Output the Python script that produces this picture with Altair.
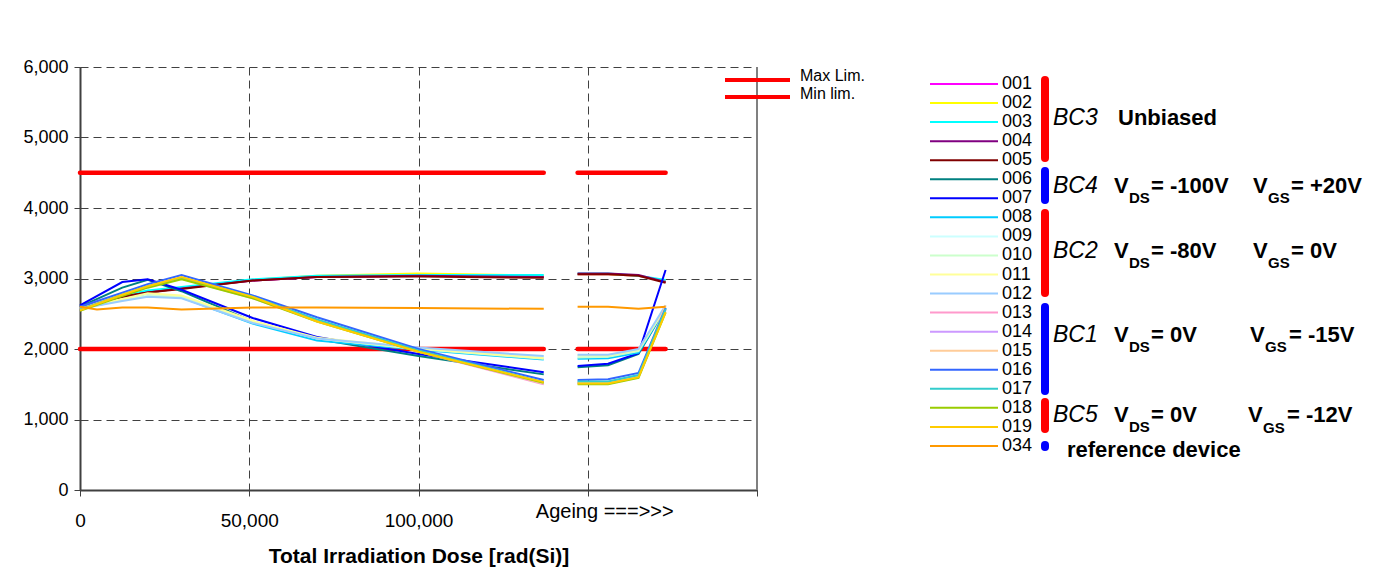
import altair as alt
import pandas as pd

FONT = "Liberation Sans"

# ---------------- data ----------------
SERIES = ["001", "002", "003", "004", "005", "006", "007", "008", "009", "010",
          "011", "012", "013", "014", "015", "016", "017", "018", "019", "034"]
COLORS = ["#FF00FF", "#FFFF00", "#00FFFF", "#800080", "#800000", "#008080", "#0000FF",
          "#00CCFF", "#CCFFFF", "#CCFFCC", "#FFFF99", "#99CCFF", "#FF99CC", "#CC99FF",
          "#FFCC99", "#3366FF", "#33CCCC", "#99CC00", "#FFCC00", "#FF9900"]

X_IRR = [0, 12500, 20000, 30000, 51000, 70000, 100000, 137000]
X_REF = [0, 5000, 12500, 20000, 30000, 51000, 70000, 100000, 137000]
X_AGE = [147000, 156000, 165000, 173000]

IRR = {
    "001": [2600, 2740, 2810, 2870, 2970, 3020, 3040, 3030],
    "002": [2590, 2730, 2800, 2860, 2980, 3040, 3070, 3040],
    "003": [2610, 2760, 2830, 2880, 2990, 3040, 3050, 3050],
    "004": [2600, 2740, 2800, 2860, 2970, 3020, 3040, 3020],
    "005": [2600, 2740, 2800, 2850, 2970, 3020, 3030, 3010],
    "006": [2600, 2870, 2980, 2820, 2390, 2140, 1900, 1640],
    "007": [2620, 2950, 2990, 2840, 2440, 2170, 1930, 1670],
    "008": [2570, 2700, 2760, 2730, 2360, 2120, 1990, 1850],
    "009": [2580, 2700, 2760, 2740, 2380, 2150, 2000, 1880],
    "010": [2570, 2690, 2750, 2750, 2390, 2150, 2000, 1860],
    "011": [2580, 2710, 2790, 2760, 2400, 2160, 2010, 1870],
    "012": [2570, 2680, 2740, 2720, 2370, 2150, 2020, 1900],
    "013": [2560, 2760, 2880, 3000, 2720, 2400, 1960, 1500],
    "014": [2560, 2770, 2890, 3010, 2730, 2410, 1970, 1510],
    "015": [2570, 2780, 2890, 3010, 2730, 2410, 1970, 1510],
    "016": [2600, 2800, 2920, 3050, 2760, 2450, 2000, 1560],
    "017": [2560, 2770, 2890, 3010, 2740, 2420, 1980, 1530],
    "018": [2540, 2750, 2870, 2990, 2720, 2390, 1960, 1520],
    "019": [2550, 2770, 2890, 3020, 2740, 2390, 1960, 1530],
}
REF_034 = [2600, 2560, 2590, 2590, 2560, 2590, 2590, 2580, 2570]

AGE = {
    "001": [3060, 3060, 3040, 2960],
    "002": [3060, 3060, 3040, 2960],
    "003": [3070, 3070, 3040, 2980],
    "004": [3070, 3070, 3050, 2950],
    "005": [3060, 3060, 3040, 2940],
    "006": [1740, 1770, 1930, 2580],
    "007": [1760, 1790, 1940, 3120],
    "008": [1860, 1870, 1950, 2580],
    "009": [1900, 1900, 1980, 2600],
    "010": [1880, 1890, 1970, 2590],
    "011": [1910, 1910, 1990, 2600],
    "012": [1920, 1920, 2000, 2620],
    "013": [1520, 1520, 1610, 2560],
    "014": [1530, 1530, 1620, 2570],
    "015": [1530, 1530, 1620, 2620],
    "016": [1560, 1570, 1660, 2580],
    "017": [1540, 1540, 1630, 2570],
    "018": [1500, 1500, 1590, 2520],
    "019": [1510, 1510, 1600, 2520],
    "034": [2600, 2600, 2570, 2600],
}

LIMIT_NAMES = ["Max Lim.", "Min lim."]
LIMIT_VALUES = [4500, 2000]
LIMIT_X = [0, 137000]
LIMIT_X_AGE = [147000, 173000]

X_TICKS = [0, 50000, 100000, 150000, 200000]
Y_TICKS = [0, 1000, 2000, 3000, 4000, 5000, 6000]
AGEING_LABEL = "Ageing ===>>>"
X_TITLE = "Total Irradiation Dose [rad(Si)]"

GROUP_LABELS = ["BC3", "BC4", "BC2", "BC1", "BC5"]

# ---------------- tables ----------------
rows = []
for s in SERIES:
    xs = X_REF if s == "034" else X_IRR
    ys = REF_034 if s == "034" else IRR[s]
    for x, y in zip(xs, ys):
        rows.append({"series": s, "x": x, "y": y, "seg": "irr"})
    for x, y in zip(X_AGE, AGE[s]):
        rows.append({"series": s, "x": x, "y": y, "seg": "age"})
df = pd.DataFrame(rows)

lim_rows = []
for n, v in zip(LIMIT_NAMES, LIMIT_VALUES):
    for x in LIMIT_X:
        lim_rows.append({"name": n, "x": x, "y": v, "seg": "irr"})
    for x in LIMIT_X_AGE:
        lim_rows.append({"name": n, "x": x, "y": v, "seg": "age"})
df_lim = pd.DataFrame(lim_rows)

W, H = 677, 423
xscale = alt.Scale(domain=[0, 200000], nice=False)
yscale = alt.Scale(domain=[0, 6000], nice=False)
cscale = alt.Scale(domain=SERIES, range=COLORS)

X_ENC = alt.X("x:Q", scale=xscale, title=X_TITLE,
              axis=alt.Axis(values=X_TICKS,
                            labelExpr="datum.value >= 150000 ? '' : format(datum.value, ',')"))
Y_ENC = alt.Y("y:Q", scale=yscale, title=None,
              axis=alt.Axis(values=Y_TICKS, format=",", labelExpr="format(datum.value, ',')"))

limits = alt.Chart(df_lim).mark_line(color="#FF0000", strokeWidth=4.5, strokeCap="round").encode(
    x=X_ENC, y=Y_ENC, detail=["name:N", "seg:N"],
)

lines = alt.Chart(df).mark_line(strokeWidth=2).encode(
    x=X_ENC, y=Y_ENC,
    color=alt.Color("series:N", scale=cscale, legend=None),
    detail="seg:N",
)

ageing = alt.Chart(pd.DataFrame({"t": [AGEING_LABEL]})).mark_text(
    font=FONT, fontSize=20, baseline="middle", align="center", color="black", dx=17
).encode(x=alt.datum(150000), y=alt.value(H + 22), text="t:N")

border = alt.Chart(pd.DataFrame({"a": [0]})).mark_rule(color="#808080", strokeWidth=2).encode(
    x=alt.value(W), y=alt.value(0), y2=alt.value(H))

# ---------------- legend (right) ----------------
df_leg = pd.DataFrame({"series": SERIES, "row": list(range(len(SERIES)))})
leg_base = alt.Chart(df_leg).transform_calculate(ly="17 + 19.05 * datum.row")
leg_lines = leg_base.mark_rule(strokeWidth=2).encode(
    x=alt.value(850), x2=alt.value(918),
    y=alt.Y("ly:Q", scale=None, axis=None),
    color=alt.Color("series:N", scale=cscale, legend=None),
)
leg_text = leg_base.mark_text(font=FONT, fontSize=18, align="left", baseline="middle", color="black").encode(
    x=alt.value(922), y=alt.Y("ly:Q", scale=None, axis=None), text="series:N")

# group bars
red_bars = pd.DataFrame({"y1": [13, 146, 335], "y2": [91, 226, 362]})
blue_bars = pd.DataFrame({"y1": [104, 240, 378], "y2": [133, 324, 380]})
bars_r = alt.Chart(red_bars).mark_rule(color="#FF0000", strokeWidth=8, strokeCap="round").encode(
    x=alt.value(965), y=alt.Y("y1:Q", scale=None, axis=None), y2="y2:Q")
bars_b = alt.Chart(blue_bars).mark_rule(color="#0000FF", strokeWidth=8, strokeCap="round").encode(
    x=alt.value(965), y=alt.Y("y1:Q", scale=None, axis=None), y2="y2:Q")

ital = pd.DataFrame({"t": GROUP_LABELS, "x": [973] * 5, "y": [58, 126, 191, 275, 355]})
bold = pd.DataFrame({
    "t": ["Unbiased",
          "V", "= -100V", "V", "= +20V",
          "V", "= -80V", "V", "=  0V",
          "V", "= 0V", "V", "= -15V",
          "V", "= 0V", "V", "= -12V",
          "reference device"],
    "x": [1038,
          1034, 1071, 1173, 1211,
          1034, 1071, 1173, 1211,
          1034, 1071, 1170, 1209,
          1034, 1071, 1168, 1207,
          987],
    "y": [58,
          126, 126, 126, 126,
          191, 191, 191, 191,
          275, 275, 275, 275,
          355, 355, 355, 355,
          390],
})
subs = pd.DataFrame({
    "t": ["DS", "GS"] * 4,
    "x": [1049, 1188, 1049, 1188, 1049, 1185, 1049, 1183],
    "y": [136, 136, 201, 201, 285, 285, 365, 366],
})


def txt(d, **kw):
    return alt.Chart(d).mark_text(font=FONT, align="left", baseline="alphabetic", color="black", **kw).encode(
        x=alt.X("x:Q", scale=None, axis=None), y=alt.Y("y:Q", scale=None, axis=None), text="t:N")


t_ital = txt(ital, fontSize=23, fontStyle="italic")
t_bold = txt(bold, fontSize=22, fontWeight="bold")
t_subs = txt(subs, fontSize=15, fontWeight="bold")

# top small legend (Max / Min)
top_lines = pd.DataFrame({"ly": [13, 30]})
top_l = alt.Chart(top_lines).mark_rule(color="#FF0000", strokeWidth=4).encode(
    x=alt.value(645), x2=alt.value(710), y=alt.Y("ly:Q", scale=None, axis=None))
top_t = alt.Chart(pd.DataFrame({"t": LIMIT_NAMES, "y": [9, 27]})).mark_text(
    font=FONT, fontSize=16, align="left", baseline="middle", color="black").encode(
    x=alt.value(720), y=alt.Y("y:Q", scale=None, axis=None), text="t:N")

chart = alt.layer(
    limits, lines, ageing, border,
    leg_lines, leg_text, bars_r, bars_b, t_ital, t_bold, t_subs, top_l, top_t,
).properties(
    width=W, height=H,
    autosize=alt.AutoSizeParams(type="none"),
    padding={"left": 80, "top": 67, "right": 1378 - 80 - W, "bottom": 569 - 67 - H},
).configure_view(stroke=None).configure_axis(
    grid=True, gridColor="#404040", gridDash=[8, 5], gridWidth=1,
    domainColor="#404040", domainWidth=2, tickColor="#404040", tickSize=6,
    labelFont=FONT, labelFontSize=19, labelColor="black",
    titleFont=FONT, titleFontSize=21, titleFontWeight="bold", titleColor="black",
).configure_axisX(labelPadding=15, titlePadding=15, labelFlush=False).configure_axisY(labelPadding=6, labelFontSize=18)

chart.save("out.html", embed_options={"renderer": "svg", "actions": False})
